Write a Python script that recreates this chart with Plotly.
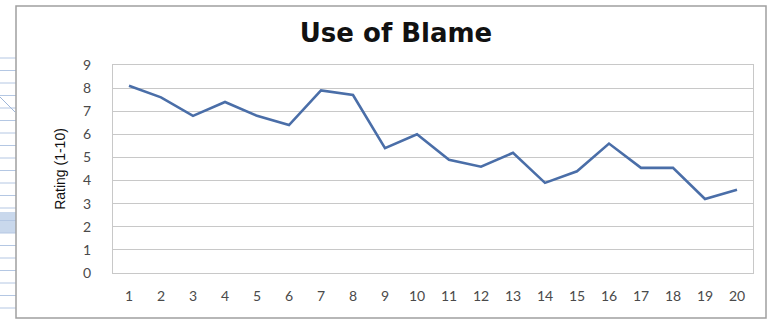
import plotly.graph_objects as go

categories = list(range(1, 21))
ratings = [8.1, 7.6, 6.8, 7.4, 6.8, 6.4, 7.9, 7.7, 5.4, 6.0,
           4.9, 4.6, 5.2, 3.9, 4.4, 5.6, 4.55, 4.55, 3.2, 3.6]
y_ticks = list(range(0, 10))

fig = go.Figure()
fig.add_trace(go.Scatter(
    x=categories, y=ratings, mode="lines",
    line=dict(color="#4a6ea8", width=2.6),
    showlegend=False, hoverinfo="skip",
))

PL, PR, PT, PB = 113, 753, 65, 273
def px(x):
    return (x - PL) / (PR - PL)
def py(y):
    return (PB - y) / (PB - PT)

shapes = []
# decorative page background at far left
shapes.append(dict(type="rect", xref="paper", yref="paper",
                   x0=px(0), x1=px(16), y0=py(233), y1=py(212),
                   line=dict(width=0), fillcolor="#c9d8ec", layer="below"))
yy = 58
while yy < 316:
    shapes.append(dict(type="line", xref="paper", yref="paper",
                       x0=px(0), x1=px(16), y0=py(yy), y1=py(yy),
                       line=dict(color="#b4c7e3", width=1)))
    yy += 12.5
shapes.append(dict(type="line", xref="paper", yref="paper",
                   x0=px(0), x1=px(15), y0=py(97), y1=py(112),
                   line=dict(color="#9fb6d8", width=1)))

fig.update_layout(
    width=768, height=321,
    margin=dict(l=PL, r=768 - PR, t=PT, b=321 - PB),
    paper_bgcolor="white", plot_bgcolor="white",
    title=dict(text="<b>Use of Blame</b>", x=396/768, xanchor="center",
               y=1 - 33/321, yanchor="middle",
               font=dict(family="DejaVu Sans", size=26, color="#111111")),
    xaxis=dict(range=[0.5, 20.5], tickmode="array", tickvals=categories,
               ticktext=[str(c) for c in categories],
               showgrid=False, zeroline=False, showline=True,
               linecolor="#c8c8c8", linewidth=1, mirror=True,
               ticks="outside", ticklen=10, tickcolor="rgba(0,0,0,0)",
               tickfont=dict(family="Lato", size=14, color="#4a4a4a")),
    yaxis=dict(range=[0, 9], tickmode="array", tickvals=y_ticks,
               showgrid=True, gridcolor="#c8c8c8", gridwidth=1,
               zeroline=False, showline=True, linecolor="#c8c8c8",
               linewidth=1, mirror=True,
               ticks="outside", ticklen=18, tickcolor="rgba(0,0,0,0)",
               tickfont=dict(family="Lato", size=14, color="#4a4a4a"),
               title=dict(text="Rating (1-10)", standoff=14,
                          font=dict(family="Liberation Sans Narrow, Liberation Sans", size=14, color="#111111"))),
    shapes=shapes + [
        dict(type="rect", xref="paper", yref="paper",
             x0=px(16), x1=px(766), y0=py(318), y1=py(6),
             line=dict(color="#a0a0a0", width=1.5), fillcolor="rgba(0,0,0,0)"),
    ],
)

fig.write_html("out.html")
